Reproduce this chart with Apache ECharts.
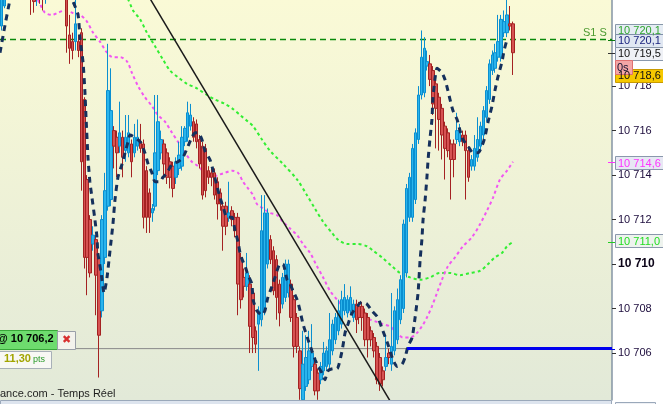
<!DOCTYPE html>
<html><head><meta charset="utf-8">
<script src="https://cdn.jsdelivr.net/npm/echarts@6/dist/echarts.min.js"></script>
<style>html,body{margin:0;padding:0;background:#fff}#c{width:663px;height:404px}</style>
</head><body><div id="c"></div>
<script>
// ---- data ----
const tickValues = [10706, 10708, 10710, 10712, 10714, 10716, 10718];
const totalSlots = 207;           // bar slots on the time axis (incl. empty right part)
// [open, close, low, high]
const ohlc = [
[10720.7,10722.1,10720.5,10722.4],[10721.6,10722.4,10721.5,10722.6],[10722.4,10722.9,10722.2,10723.2],[10722.9,10723.3,10722.7,10723.6],
[10723.3,10723.0,10722.6,10723.7],[10723.0,10723.4,10722.8,10723.8],[10723.4,10723.1,10722.7,10723.7],[10723.1,10722.8,10722.4,10723.4],
[10722.8,10722.6,10722.2,10723.1],[10722.6,10722.4,10722.0,10722.9],[10722.4,10721.9,10721.2,10722.7],[10722.2,10721.8,10721.3,10722.6],
[10721.9,10722.3,10721.6,10722.6],[10722.3,10722.1,10721.7,10722.6],[10722.4,10721.9,10721.4,10722.7],[10721.9,10722.5,10721.7,10722.9],
[10722.5,10723.0,10722.2,10723.3],[10723.0,10723.4,10722.8,10723.8],[10723.4,10723.1,10722.8,10723.7],[10723.1,10722.9,10722.5,10723.4],
[10722.9,10723.2,10722.6,10723.5],[10723.2,10722.8,10722.3,10723.5],[10722.8,10720.7,10719.5,10723.0],[10720.3,10719.7,10719.0,10721.2],
[10720.0,10719.6,10719.2,10720.4],[10720.0,10720.8,10719.6,10721.9],[10720.0,10719.6,10719.3,10720.3],[10720.4,10714.6,10713.3,10720.6],
[10717.4,10710.3,10709.8,10717.5],[10713.8,10710.3,10708.6,10714.0],[10712.0,10709.6,10709.4,10712.2],[10710.9,10711.3,10710.6,10711.7],
[10711.1,10709.5,10707.7,10711.3],[10710.3,10706.8,10704.9,10710.5],[10707.9,10712.0,10707.6,10712.2],[10710.3,10713.3,10710.0,10714.1],
[10712.6,10717.8,10712.4,10719.9],[10712.9,10716.9,10712.6,10718.8],[10716.0,10715.3,10714.3,10716.2],[10715.7,10715.0,10713.9,10716.0],
[10715.3,10715.9,10715.0,10717.3],[10715.7,10714.8,10713.9,10716.0],[10715.1,10715.7,10714.6,10716.7],[10715.0,10715.9,10714.8,10716.7],
[10715.4,10714.6,10713.9,10715.6],[10715.0,10715.7,10714.8,10716.3],[10715.3,10715.7,10715.1,10716.5],[10715.5,10715.2,10715.0,10716.3],
[10715.4,10712.1,10711.6,10715.6],[10714.2,10712.1,10711.4,10714.4],[10713.2,10712.1,10711.4,10713.4],[10712.3,10712.5,10711.9,10712.7],
[10712.6,10715.0,10712.4,10717.6],[10714.2,10716.4,10714.0,10717.6],[10715.0,10715.6,10714.7,10716.0],[10715.4,10714.5,10713.9,10715.6],
[10715.0,10713.9,10713.6,10715.2],[10714.6,10713.9,10713.4,10714.8],[10714.4,10713.4,10713.0,10714.6],[10713.9,10714.6,10713.6,10714.8],
[10714.3,10714.9,10714.0,10715.5],[10714.4,10715.7,10714.2,10716.2],[10715.5,10716.1,10715.3,10716.2],[10715.7,10716.8,10715.5,10717.3],
[10716.2,10716.7,10716.0,10717.2],[10716.4,10715.7,10715.5,10716.6],[10716.3,10715.5,10715.2,10716.5],[10715.6,10714.5,10714.3,10715.8],
[10715.3,10713.1,10712.9,10715.5],[10715.2,10713.3,10713.0,10715.4],[10714.2,10713.9,10713.6,10714.4],[10714.1,10713.9,10713.5,10714.3],
[10714.1,10713.1,10712.9,10714.3],[10713.7,10712.7,10712.0,10713.9],[10713.2,10712.7,10712.4,10713.4],[10712.6,10711.7,10710.6,10712.8],
[10712.6,10711.7,10711.3,10712.8],[10712.1,10712.3,10711.9,10713.7],[10712.4,10712.0,10711.7,10712.6],[10712.1,10711.5,10711.2,10712.3],
[10712.1,10709.1,10707.7,10712.3],[10710.3,10708.4,10708.0,10710.5],[10709.4,10709.0,10708.5,10709.8],[10709.0,10709.6,10708.8,10710.5],
[10709.1,10707.2,10706.0,10709.5],[10708.7,10706.7,10706.0,10708.9],[10707.0,10706.4,10706.0,10707.2],[10707.3,10707.9,10705.2,10708.1],
[10707.5,10711.5,10707.2,10713.1],[10707.9,10712.3,10707.7,10713.1],[10710.0,10712.3,10709.8,10712.5],[10711.1,10710.2,10710.0,10711.3],
[10710.6,10708.8,10708.6,10710.8],[10710.2,10708.5,10707.5,10710.4],[10709.1,10707.8,10707.2,10709.3],[10708.2,10709.4,10708.0,10709.6],
[10708.5,10710.0,10708.3,10710.2],[10708.7,10710.0,10708.5,10710.2],[10709.1,10707.6,10707.4,10709.3],[10708.4,10706.3,10705.8,10708.6],
[10707.6,10706.3,10706.0,10707.8],[10706.1,10704.4,10703.9,10706.3],[10703.9,10705.5,10703.8,10707.0],[10704.5,10705.8,10704.3,10706.8],
[10704.8,10706.1,10704.6,10707.0],[10705.4,10706.0,10705.2,10707.3],[10705.5,10704.3,10704.1,10705.7],[10705.1,10704.3,10703.9,10705.3],
[10704.8,10705.4,10704.6,10705.6],[10705.2,10706.0,10705.0,10706.5],[10705.4,10706.1,10705.2,10706.3],[10705.5,10706.6,10705.3,10707.8],
[10706.1,10707.3,10705.9,10707.5],[10706.6,10707.6,10706.4,10707.8],[10707.0,10707.9,10706.8,10708.4],[10707.3,10708.4,10707.1,10708.8],
[10707.9,10708.5,10707.7,10709.1],[10707.8,10708.4,10707.6,10708.6],[10707.9,10708.5,10707.7,10709.0],[10707.6,10708.2,10707.4,10708.4],
[10708.2,10707.5,10706.9,10708.4],[10708.1,10707.6,10707.3,10708.3],[10708.1,10707.6,10707.0,10708.3],[10707.8,10706.6,10706.3,10708.0],
[10707.6,10706.6,10705.8,10707.8],[10707.0,10706.6,10706.3,10707.2],[10706.7,10706.1,10705.8,10706.9],[10706.3,10704.8,10704.6,10706.5],
[10705.8,10704.6,10704.3,10706.0],[10705.2,10704.8,10704.5,10705.4],[10705.4,10705.8,10705.2,10706.8],[10706.0,10705.8,10705.5,10706.2],
[10705.5,10706.3,10705.2,10708.7],[10706.1,10707.9,10705.9,10708.1],[10706.6,10708.4,10706.4,10708.9],[10707.5,10709.3,10707.3,10709.5],
[10708.0,10711.8,10707.8,10712.0],[10709.6,10713.4,10709.4,10713.6],[10712.1,10713.9,10711.9,10714.1],[10712.1,10715.2,10711.9,10715.4],
[10712.9,10715.9,10712.7,10716.1],[10715.6,10717.6,10715.4,10718.0],[10717.6,10719.3,10717.4,10720.5],[10717.7,10719.7,10717.5,10720.2],
[10718.9,10719.1,10718.7,10719.6],[10719.0,10718.3,10718.0,10719.4],[10718.7,10717.2,10716.7,10718.9],[10718.1,10717.0,10715.2,10718.3],
[10717.5,10716.5,10715.1,10717.7],[10717.0,10715.8,10714.7,10717.2],[10716.2,10715.2,10713.8,10716.4],[10715.9,10715.1,10714.8,10716.1],
[10715.4,10714.7,10712.9,10715.6],[10715.4,10714.7,10713.9,10715.6],[10715.6,10716.0,10715.4,10716.8],[10715.5,10716.0,10715.3,10716.3],
[10715.8,10715.5,10715.3,10716.0],[10715.8,10715.1,10712.9,10716.0],[10715.1,10713.9,10713.7,10715.3],[10714.4,10714.7,10714.2,10714.9],
[10714.4,10715.2,10714.2,10715.8],[10714.8,10715.6,10714.6,10716.6],[10715.3,10716.2,10715.1,10716.4],[10715.8,10716.9,10715.6,10717.1],
[10716.6,10717.8,10716.4,10718.0],[10717.4,10719.0,10717.2,10719.2],[10718.7,10719.4,10718.5,10719.6],[10718.8,10719.5,10718.6,10719.9],
[10719.3,10720.0,10719.1,10721.2],[10719.3,10721.0,10719.1,10721.2],[10720.4,10720.9,10720.2,10721.4],[10720.4,10721.2,10720.2,10721.9],
[10720.8,10720.7,10720.5,10721.6],[10720.8,10719.5,10718.5,10720.9]
];
// indicator lines: [bar position, price]
const maNavy = [
[-0.5,10719.5],[1,10720.6],[2.9,10721.9],[4.2,10722.6],[8,10723.1],[14,10723.3],[20,10723.0],[24.2,10721.8],[25.9,10721.2],
[26.6,10720.1],[27.6,10719.05],[28.2,10717.8],[28.6,10716.6],[29.3,10714.7],[29.9,10713.7],[30.6,10713.0],[31.6,10712.0],
[32.3,10711.2],[32.6,10710.5],[33.7,10709.6],[34.7,10708.7],[35.7,10709.4],[36.7,10710.6],[37.7,10711.8],[38.4,10712.9],
[39.4,10713.9],[40.8,10714.5],[41.8,10715.0],[42.8,10715.5],[43.5,10715.8],[46.9,10715.5],[48.5,10715.0],[49.6,10714.5],
[50.9,10714.1],[51.9,10713.7],[53.6,10713.7],[54.6,10713.9],[56.0,10714.1],[57.7,10714.5],[59.7,10714.6],[61.4,10714.8],
[63.1,10715.3],[64.4,10715.7],[65.5,10715.9],[66.5,10715.9],[67.8,10715.6],[68.8,10715.1],[70.5,10714.7],[71.2,10714.4],
[72.9,10713.5],[73.9,10713.0],[74.9,10712.6],[76.3,10712.1],[78.0,10712.1],[79.0,10711.5],[80.0,10711.0],[80.7,10710.5],
[81.4,10710.2],[82.4,10709.9],[83.4,10709.5],[84.7,10709.1],[85.1,10708.4],[86.4,10707.9],[88.1,10707.7],[89.1,10707.9],
[90.1,10708.5],[91.5,10709.0],[92.5,10709.4],[94.2,10710.0],[95.2,10710.0],[96.6,10709.3],[97.6,10709.1],[98.6,10708.8],
[100.0,10708.4],[101.0,10707.9],[102.0,10707.3],[103.7,10706.6],[105.0,10706.1],[106.1,10705.7],[107.1,10705.4],[108.4,10705.1],
[109.4,10704.8],[110.4,10705.2],[112.1,10705.3],[113.5,10705.3],[115.2,10706.1],[116.2,10706.9],[117.2,10707.3],[118.6,10707.8],
[120.3,10708.1],[121.9,10708.3],[123.6,10708.2],[125.3,10707.9],[127.3,10707.6],[129.0,10707.0],[130.7,10706.4],[132.4,10705.7],
[133.8,10705.4],[135.5,10705.5],[136.5,10705.8],[137.5,10706.3],[138.9,10706.7],[139.9,10707.6],[140.9,10708.7],[141.6,10710.2],
[142.2,10711.1],[142.6,10712.0],[143.3,10712.9],[143.9,10713.9],[144.3,10714.7],[144.9,10715.6],[145.6,10716.5],[145.9,10717.4],
[146.6,10718.3],[147.3,10718.8],[149.0,10718.6],[150.0,10718.3],[151.0,10717.8],[151.7,10717.4],[152.7,10716.9],[154.1,10716.5],
[155.1,10716.0],[156.1,10715.6],[157.8,10715.3],[159.5,10715.0],[161.2,10715.0],[162.5,10715.3],[163.5,10715.7],[164.6,10716.4],
[165.9,10717.1],[166.9,10717.8],[167.9,10718.4],[169.3,10719.1],[170.0,10719.6],[171.0,10720.1]
];
const maMagenta = [
[5,10723.5],[9.6,10722.6],[13.0,10721.7],[14.7,10721.3],[17.1,10721.2],[19.1,10721.3],[21.5,10721.4],[23.9,10721.3],[26.6,10721.2],
[28.9,10720.9],[31.0,10720.4],[33.3,10720.0],[35.7,10719.5],[37.7,10719.3],[40.1,10719.3],[42.5,10719.1],[44.1,10718.6],
[46.2,10718.0],[48.5,10717.5],[50.9,10717.1],[52.9,10716.7],[55.3,10716.4],[57.7,10715.9],[59.7,10715.5],[62.1,10715.0],
[64.4,10714.6],[66.5,10714.4],[68.8,10714.1],[71.2,10713.9],[73.2,10714.0],[75.6,10714.1],[78.0,10714.2],[80.0,10714.1],
[81.7,10713.7],[83.4,10713.4],[85.1,10713.1],[86.4,10712.7],[88.5,10712.5],[90.8,10712.3],[93.2,10712.2],[95.2,10711.9],
[97.6,10711.6],[100.0,10711.3],[102.0,10710.9],[104.4,10710.5],[106.7,10709.9],[108.8,10709.4],[111.1,10708.8],[113.5,10708.4],
[115.5,10708.1],[117.9,10707.8],[120.3,10707.7],[122.3,10707.6],[124.7,10707.5],[127.0,10707.4],[129.0,10707.3],[131.4,10707.2],
[133.8,10706.9],[135.8,10706.7],[138.2,10706.7],[140.5,10706.9],[142.2,10707.2],[143.9,10707.6],[145.6,10708.1],[147.3,10708.7],
[149.0,10709.3],[151.0,10709.9],[153.4,10710.3],[156.1,10710.8],[159.1,10711.2],[161.9,10711.8],[164.2,10712.4],[166.3,10713.0],
[168.6,10713.8],[171.0,10714.2],[173.0,10714.6]
];
const maGreen = [
[30,10723.6],[38.4,10722.8],[42.8,10721.9],[44.5,10721.4],[46.9,10721.0],[49.2,10720.4],[51.9,10719.8],[54.6,10719.2],
[57.0,10718.7],[59.7,10718.4],[62.8,10718.1],[66.1,10717.9],[69.5,10717.6],[72.2,10717.4],[75.6,10717.2],[78.0,10717.0],
[80.7,10716.7],[83.4,10716.4],[85.1,10716.2],[88.1,10715.6],[90.8,10715.1],[95.2,10714.5],[100.0,10713.8],[103.3,10713.1],
[106.0,10712.5],[108.8,10711.9],[111.8,10711.4],[113.8,10711.1],[116.9,10710.9],[120.3,10710.9],[123.6,10710.8],[125.7,10710.6],
[128.7,10710.3],[132.1,10709.9],[134.8,10709.6],[138.2,10709.4],[141.6,10709.3],[144.9,10709.4],[148.3,10709.6],[151.7,10709.6],
[155.1,10709.5],[158.5,10709.6],[161.9,10709.7],[164.6,10710.0],[166.9,10710.3],[169.3,10710.5],[171.0,10710.8],[173.0,10711.0]
];
const trendLine = [[45,10723.1],[133,10703.5]];
const s1Level = 10720.1;
const orderPrice = 10706.2;
const orderFillPos = 137.2;     // bar position where the blue order line starts
const lastPrice = 10718.6;
const bidPrice = 10719.5;
const magentaLast = 10714.6;
const greenLast = 10711.0;
const orderText = '@ 10 706,2';
const gainText = '11,30';
const footerText = 'ance.com - Temps Réel';

// ---- chart ----
const FONT = '"Liberation Sans", Arial, sans-serif';
const fmt = v => { const s = v.toFixed(0); return s.slice(0, s.length - 3) + ' ' + s.slice(-3); };
const fmt1 = v => { const s = v.toFixed(1).replace('.', ','); const ip = s.split(',')[0]; return ip.slice(0, ip.length - 3) + ' ' + ip.slice(-3) + ',' + s.split(',')[1]; };
const cats = Array.from({length: totalSlots}, (_, i) => String(i));
const xMax = totalSlots - 0.5;

const chart = echarts.init(document.getElementById('c'), null, {renderer: 'canvas'});
const option = {
  animation: false,
  backgroundColor: '#ffffff',
  grid: {
    left: 0, right: 51, top: 0, bottom: 4, show: true, borderWidth: 0,
    outerBoundsMode: 'none',
    backgroundColor: {type: 'linear', x: 0, y: 0, x2: 0, y2: 1,
      colorStops: [{offset: 0, color: '#fafad6'}, {offset: 1, color: '#e2e9d8'}]}
  },
  xAxis: [
    {type: 'category', data: cats, boundaryGap: true, show: false},
    {type: 'value', min: -0.5, max: xMax, show: false}
  ],
  yAxis: {
    type: 'value', position: 'right', min: 10703.89, max: 10721.87, scale: true,
    splitLine: {show: false},
    axisLine: {show: true, onZero: false, lineStyle: {color: '#8595a5', width: 1.5}},
    axisTick: {show: true, customValues: tickValues, length: 4, lineStyle: {color: '#333'}},
    axisLabel: {
      customValues: tickValues, margin: 6, color: '#1c0c3c', fontSize: 11, fontFamily: FONT,
      formatter: v => v === 10710 ? '{b|' + fmt(v) + '}' : fmt(v),
      rich: {b: {fontWeight: 'bold', fontSize: 12, color: '#0c0418', fontFamily: FONT}}
    }
  },
  series: [
    {type: 'line', xAxisIndex: 1, data: [[-0.5, s1Level], [xMax, s1Level]], showSymbol: false, z: 1,
     lineStyle: {color: '#0a8a0a', width: 1.5, type: [6, 4]}},
    {type: 'line', xAxisIndex: 1, data: [[-0.5, orderPrice], [orderFillPos, orderPrice]], showSymbol: false, z: 1,
     lineStyle: {color: '#8a8a8a', width: 1}},
    {type: 'line', xAxisIndex: 1, data: maGreen, showSymbol: false, smooth: 0.3, z: 1,
     lineStyle: {color: '#33ee33', width: 2, type: [3, 3]}},
    {type: 'line', xAxisIndex: 1, data: maMagenta, showSymbol: false, smooth: 0.3, z: 1,
     lineStyle: {color: '#f255f2', width: 2, type: [3, 3]}},
    {type: 'candlestick', xAxisIndex: 0, data: ohlc, barWidth: 3, z: 2,
     itemStyle: {color: '#2ab4ec', color0: '#d65252', borderColor: '#0a8fd0', borderColor0: '#a42222', borderWidth: 1}},
    {type: 'line', xAxisIndex: 1, data: trendLine, showSymbol: false, z: 3,
     lineStyle: {color: '#1a1a1a', width: 1.5}},
    {type: 'line', xAxisIndex: 1, data: maNavy, showSymbol: false, smooth: 0.2, z: 3,
     lineStyle: {color: '#15305c', width: 3, type: [6, 5]}},
    {type: 'line', xAxisIndex: 1, data: [[orderFillPos, orderPrice], [xMax, orderPrice]], showSymbol: false, z: 3,
     lineStyle: {color: '#0000ee', width: 3}}
  ]
};
chart.setOption(option);

const py = v => chart.convertToPixel({yAxisIndex: 0}, v);
function txt(x, y, text, fill, font, align) {
  return {type: 'text', z: 100, style: {text, x, y, fill, font, align: align || 'left', textAlign: align || 'left', verticalAlign: 'middle', textVerticalAlign: 'middle'}};
}
function rect(x, y, w, h, fill, stroke) {
  return {type: 'rect', z: 99, shape: {x, y, width: w, height: h}, style: {fill, stroke, lineWidth: 1}};
}
const F11 = '11px ' + FONT;
const g = [];
function priceBox(yc, text, bg, border, color) {
  g.push(rect(615.5, Math.round(yc - 6.5) + 0.5, 50, 13, bg, border));
  g.push(txt(618, Math.round(yc) + 0.5, text, color, F11));
}
function tickMark(yc, color) {
  g.push({type: 'line', z: 100, shape: {x1: 608, y1: Math.round(yc) + 0.5, x2: 615, y2: Math.round(yc) + 0.5}, style: {stroke: color, lineWidth: 1}});
}
const yS1 = py(s1Level), yLast = py(lastPrice), yBid = py(bidPrice), yMag = py(magentaLast), yGr = py(greenLast), yOrd = py(orderPrice);
// S1 label inside plot
g.push(txt(583, yS1 - 6, 'S1 S', '#4c9a30', F11));
priceBox(yS1 - 9, fmt1(s1Level), '#e6edf4', '#8899aa', '#2fa52f');
priceBox(yS1 + 1, fmt1(s1Level), '#e0e7f2', '#7f90a8', '#1a237e');
tickMark(yS1 + 1, '#0a7a0a');
priceBox(yBid + 0.5, fmt1(bidPrice), '#eff1f6', '#8a98ac', '#111111');
tickMark(yBid, '#333');
priceBox(yLast + 2.5, fmt1(lastPrice), '#f6c800', '#c89a00', '#111111');
g.push(rect(615.5, Math.round(yLast - 13) + 0.5, 17, 14, '#f4a6a6', '#e07070'));
g.push(txt(617, Math.round(yLast - 6) + 0.5, '0s', '#101030', F11));
priceBox(yMag + 1, fmt1(magentaLast), '#e7e8f4', '#8a98ac', '#ff33ff');
tickMark(yMag, '#ff33ff');
priceBox(yGr - 1, fmt1(greenLast), '#eef3ee', '#8a98ac', '#22dd22');
tickMark(yGr, '#22cc22');
tickMark(yOrd, '#0000ee');
// order widgets at the left
g.push(rect(-5.5, Math.round(yOrd - 19) + 0.5, 63, 19, '#6edc6e', '#38a838'));
g.push(txt(-3, Math.round(yOrd - 9.5), orderText, '#000000', 'bold 11px ' + FONT));
g.push(rect(57.5, Math.round(yOrd - 18) + 0.5, 18, 18, '#f3f3ec', '#9aa0a8'));
g.push(txt(66.5, Math.round(yOrd - 9), '\u2716', '#d83030', 'bold 11px "DejaVu Sans"', 'center'));
g.push(rect(-5.5, Math.round(yOrd + 2) + 0.5, 57, 17, '#f8f8f4', '#a8b0b8'));
g.push(txt(4, Math.round(yOrd + 10.5), gainText, '#a2a400', 'bold 11px ' + FONT));
g.push(txt(33, Math.round(yOrd + 11), 'pts', '#2a9a2a', '9px ' + FONT));
// footer / time-axis strip
g.push(rect(0.5, 400.5, 611, 6, '#dde4ee', '#9aa8ba'));
g.push(rect(615.5, 402.5, 40, 6, '#eef0f4', '#9aa8ba'));
g.push(txt(0, 394, footerText, '#1e1e1e', F11));
chart.setOption({graphic: {elements: g}});
</script></body></html>
